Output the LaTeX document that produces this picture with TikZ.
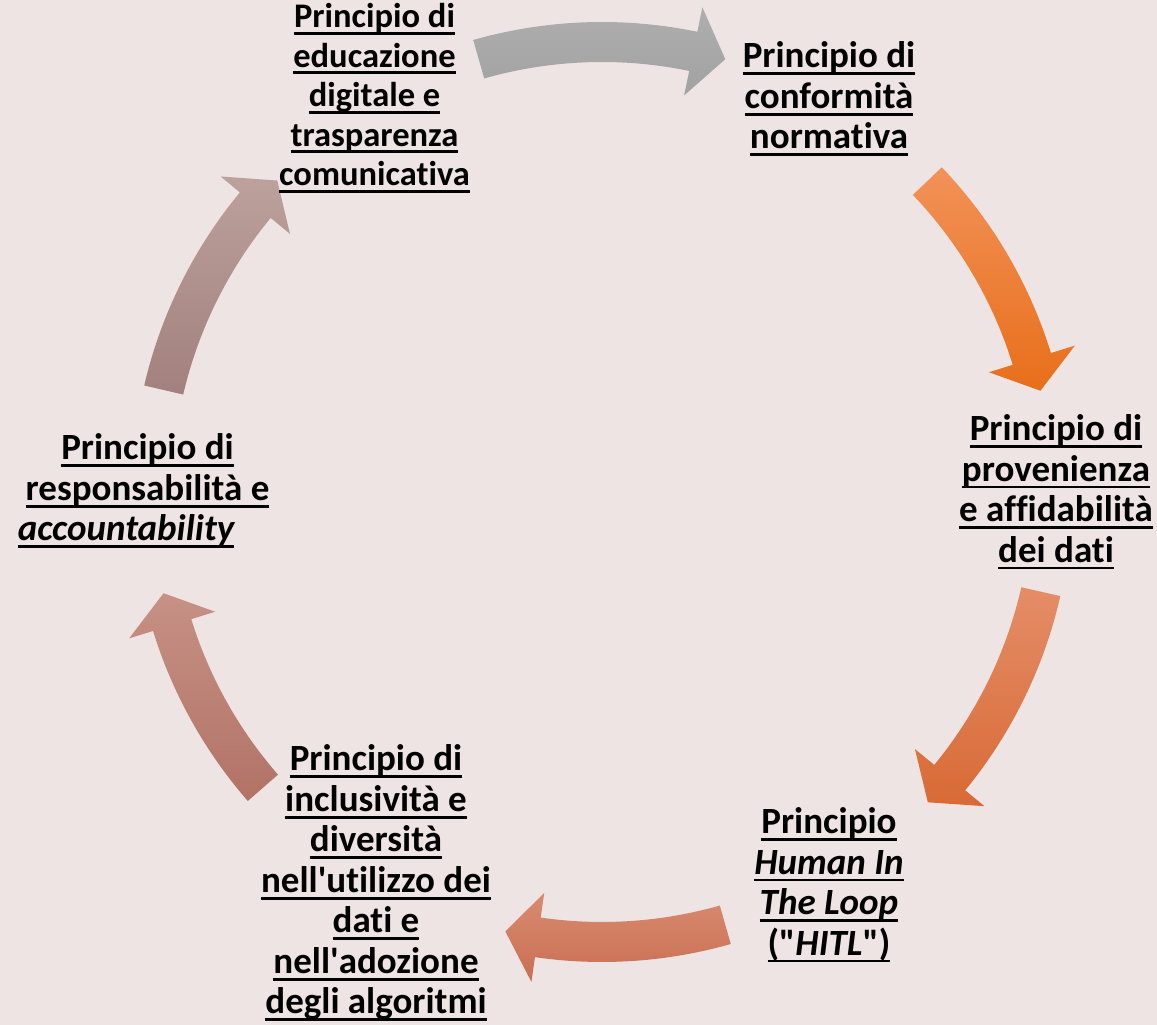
\documentclass[tikz,border=0pt]{standalone}
\usepackage{fontspec}
\setmainfont{Carlito}[Ligatures=NoCommon]
\usetikzlibrary{calc}
\definecolor{bg}{HTML}{EEE4E3}
\definecolor{aAt}{HTML}{AEAEAE}\definecolor{aAb}{HTML}{A2A2A2}
\definecolor{aBt}{HTML}{F29158}\definecolor{aBb}{HTML}{E86F1A}
\definecolor{aCt}{HTML}{E58D68}\definecolor{aCb}{HTML}{D86A35}
\definecolor{aDt}{HTML}{D98B71}\definecolor{aDb}{HTML}{C96E52}
\definecolor{aEt}{HTML}{C79186}\definecolor{aEb}{HTML}{B27266}
\definecolor{aFt}{HTML}{BCA19D}\definecolor{aFb}{HTML}{A2807D}
\newcommand\ulx[1]{\setbox0\hbox{#1}\rlap{\rule[-0.2em]{\wd0}{0.075em}}\box0}
\newcommand\cycarrow[4]{%
  \pgfmathsetmacro\tb{#2+4.2}%
  \shade[top color=#3,bottom color=#4]
    ($(C)+(#1:470pt)$) arc[start angle=#1,end angle=\tb,radius=470pt]
    -- ($(C)+(\tb:495pt)$) -- ($(C)+(#2:450pt)$) -- ($(C)+(\tb:405pt)$)
    -- ($(C)+(\tb:430pt)$) arc[start angle=\tb,end angle=#1,radius=430pt] -- cycle;}
\begin{document}
\begin{tikzpicture}[x=1pt,y=1pt,
  txt/.style={font=\fontsize{37}{40.5}\selectfont\bfseries, align=center, inner sep=0pt, text=black},
  txtsmall/.style={txt, font=\fontsize{34.5}{39.5}\selectfont\bfseries}]
\fill[bg] (0,0) rectangle (1157,1025);
\useasboundingbox (0,0) rectangle (1157,1025);
\coordinate (C) at (602,533);
\cycarrow{105.9}{74.1}{aAt}{aAb}
\cycarrow{43.7}{13.0}{aBt}{aBb}
\cycarrow{-12.8}{-43.6}{aCt}{aCb}
\cycarrow{-74.1}{-102.4}{aDt}{aDb}
\cycarrow{-138.9}{-167}{aEt}{aEb}
\cycarrow{166.9}{136.2}{aFt}{aFb}
\node[txtsmall] (n1) at (374.5,927) {\ulx{Principio di}\\\ulx{educazione}\\\ulx{digitale e}\\\ulx{trasparenza}\\\ulx{comunicativa}};
\node[txt] (n2) at (829,926) {\ulx{Principio di}\\\ulx{conformità}\\\ulx{normativa}};
\node[txt] (n3) at (1056,533) {\ulx{Principio di}\\\ulx{provenienza}\\\ulx{e affidabilità}\\\ulx{dei dati}};
\node[txt] (n4) at (829,140) {\ulx{Principio}\\\ulx{\itshape Human In}\\\ulx{\itshape The Loop}\\\ulx{(\textquotedbl\textit{HITL}\textquotedbl)}};
\node[txt] (n5) at (376,142) {\ulx{Principio di}\\\ulx{inclusività e}\\\ulx{diversità}\\\ulx{nell\textquotesingle utilizzo dei}\\\ulx{dati e}\\\ulx{nell\textquotesingle adozione}\\\ulx{degli algoritmi}};
\node[txt] (n6) at (147.5,534) {\ulx{Principio di}\\\ulx{responsabilità e}\\\ulx{\itshape accountability}\hspace*{43pt}};
\end{tikzpicture}
\end{document}
